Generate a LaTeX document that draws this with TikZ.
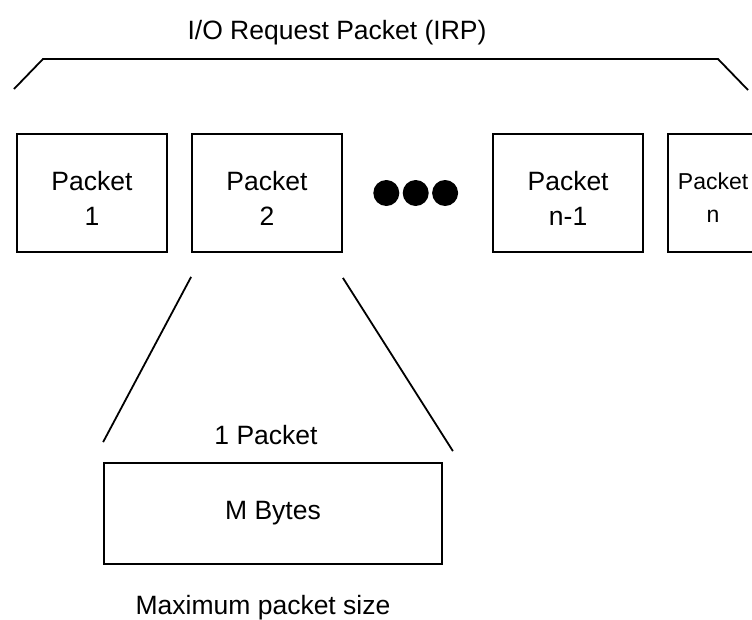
\documentclass[tikz,border=0pt]{standalone}
\usepackage{fontspec}
\setmainfont{Liberation Sans}
\usetikzlibrary{positioning}

\begin{document}
\begin{tikzpicture}[x=1pt,y=-1pt,line width=1.8pt,node distance=23.2pt,
	packet node/.style={draw,inner sep=0pt,minimum width=150pt,minimum height=118pt,text height=64pt,align=center,font=\fontsize{26.5}{35}\selectfont},
	dot node/.style={circle,fill,inner sep=0pt,minimum size=26pt},
	label node/.style={anchor=base,font=\fontsize{26.5}{32}\selectfont}]
		
		\useasboundingbox (0,0) rectangle (752,619);
		
		\node[label node] (irp) at (337,39) {I/O Request Packet (IRP)};
		\draw (14,89) -- (43,59) -- (718,59) -- (748,90);
		
		\node[packet node] (1) at (92,193) {Packet\\1};
		\node[packet node] (2) [right=of 1] {Packet\\2};
		\node[dot node] (d1) [right=29.5pt of 2] {};
		\node[dot node] (d2) [right=1.6pt of d1] {};
		\node[dot node] (d3) [right=1.6pt of d2] {};
		\node[packet node] (n1) [right=33.2pt of d3] {Packet\\n-1};
		\node[packet node,minimum width=90pt,text height=58pt,font=\fontsize{23}{33}\selectfont] (n) [right=of n1] {Packet\\n};
		
		\node[packet node,minimum width=338pt,minimum height=101pt,text height=] (m) at (273,513.5) {M Bytes};
		\node[label node] (one) at (266,444) {1 Packet};
		\node[label node] (max) at (263,614) {Maximum packet size};
		
		\coordinate (a1) at ([yshift=-24pt]2.south west);
		\coordinate (a2) at ([yshift=20pt]m.north west);
		\coordinate (b1) at ([yshift=-25pt]2.south east);
		\coordinate (b2) at ([xshift=10pt,yshift=11pt]m.north east);
		\draw (a1) -- (a2);
		\draw (b1) -- (b2);
		\end{tikzpicture}
\end{document}
